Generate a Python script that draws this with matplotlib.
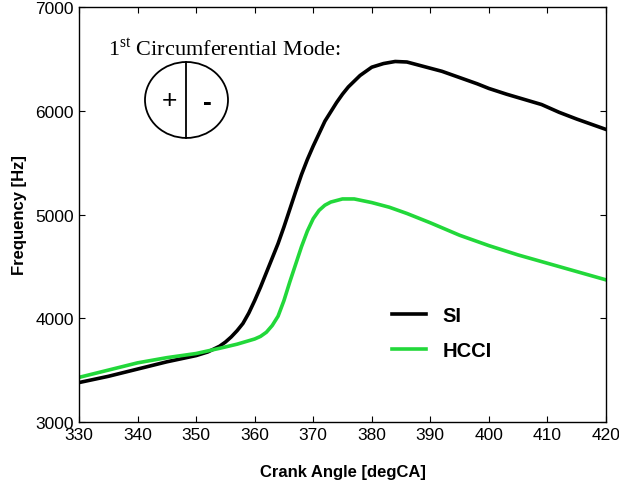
import matplotlib.pyplot as plt
from matplotlib.patches import Ellipse

plt.rcParams['font.family'] = ['Liberation Sans', 'DejaVu Sans']
plt.rcParams['mathtext.fontset'] = 'custom'
plt.rcParams['mathtext.rm'] = 'Liberation Serif'

# crank angle [degCA] and frequency [Hz]
si_angle = [330, 335, 340, 345, 350, 352, 354, 355, 356, 357, 358, 359, 360, 361,
            362, 363, 364, 365, 366, 367, 368, 369, 370, 371, 372, 373, 374, 375,
            376, 378, 380, 382, 384, 386, 388, 390, 392, 395, 398, 400, 403, 406,
            409, 412, 415, 418, 420]
si_freq = [3380, 3440, 3510, 3580, 3640, 3675, 3730, 3770, 3820, 3880, 3950, 4050,
           4170, 4300, 4440, 4580, 4720, 4880, 5050, 5220, 5385, 5530, 5660, 5780,
           5900, 5990, 6080, 6160, 6230, 6340, 6420, 6455, 6475, 6470, 6440, 6410,
           6380, 6320, 6260, 6215, 6160, 6110, 6060, 5985, 5920, 5860, 5820]

hcci_angle = [330, 335, 340, 345, 350, 354, 357, 360, 361, 362, 363, 364, 365, 366,
              367, 368, 369, 370, 371, 372, 373, 375, 377, 380, 383, 386, 390, 395,
              400, 405, 410, 415, 420]
hcci_freq = [3430, 3500, 3570, 3620, 3660, 3710, 3750, 3800, 3825, 3865, 3930, 4020,
             4170, 4350, 4520, 4690, 4840, 4960, 5040, 5090, 5120, 5150, 5150, 5115,
             5070, 5010, 4920, 4800, 4700, 4610, 4530, 4450, 4370]

x_ticks = list(range(330, 421, 10))
y_ticks = [3000, 4000, 5000, 6000, 7000]

fig = plt.figure(figsize=(6.19, 4.89), dpi=100)
ax = fig.add_axes([0.1276, 0.135, 0.8514, 0.8486])

ax.plot(si_angle, si_freq, color='black', lw=2.6, label='SI')
ax.plot(hcci_angle, hcci_freq, color='#22d83a', lw=2.6, label='HCCI')

ax.set_xlim(330, 420)
ax.set_ylim(3000, 7000)
ax.set_xticks(x_ticks)
ax.set_yticks(y_ticks)
ax.tick_params(direction='in', top=True, right=True, length=4, labelsize=12.5)
for s in ax.spines.values():
    s.set_linewidth(1.0)
ax.set_xlabel('Crank Angle [degCA]', fontsize=12, fontweight='bold', labelpad=16)
ax.set_ylabel('Frequency [Hz]', fontsize=12, fontweight='bold', labelpad=6)

leg = ax.legend(loc='upper left', bbox_to_anchor=(0.56, 0.322), frameon=False,
                prop={'size': 14.5, 'weight': 'bold'}, handlelength=1.7,
                labelspacing=0.75, handletextpad=0.8)

# mode sketch
ax.text(0.055, 0.9, r'1$^{\mathrm{st}}$ Circumferential Mode:', transform=ax.transAxes,
        fontsize=16, family='Liberation Serif', va='center', ha='left')
ax.add_patch(Ellipse((0.204, 0.776), 0.1575, 0.183, transform=ax.transAxes,
                     fill=False, lw=1.3, color='black'))
ax.plot([0.204, 0.204], [0.6845, 0.8675], transform=ax.transAxes, color='black', lw=1.3)
ax.text(0.171, 0.776, '+', transform=ax.transAxes, fontsize=19, ha='center', va='center')
ax.text(0.244, 0.772, '-', transform=ax.transAxes, fontsize=19, fontweight='bold',
        ha='center', va='center')

fig.savefig('out.png', dpi=100)
